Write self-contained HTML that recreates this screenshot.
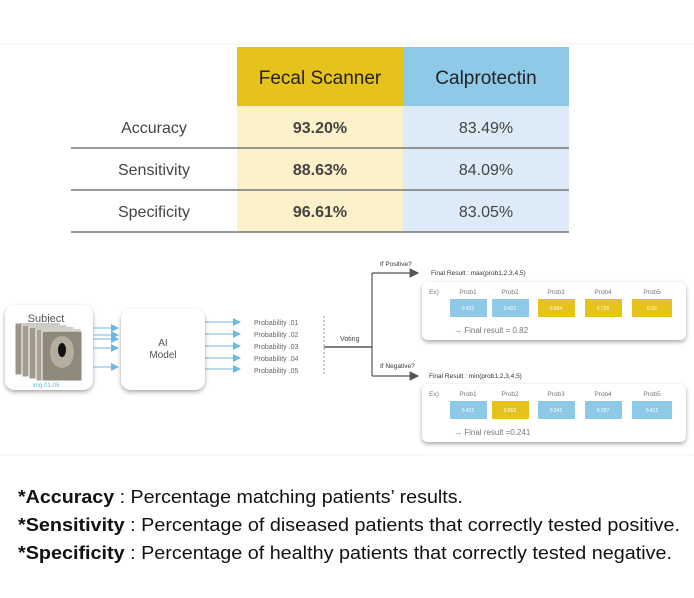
<!DOCTYPE html>
<html><head><meta charset="utf-8"><style>
html,body{margin:0;padding:0;background:#fff;}
svg{display:block;font-family:"Liberation Sans",sans-serif;}
</style></head><body>
<svg width="694" height="598" viewBox="0 0 694 598" xmlns="http://www.w3.org/2000/svg">
<defs>
<filter id="sh" x="-20%" y="-20%" width="140%" height="160%"><feDropShadow dx="0" dy="2" stdDeviation="2" flood-color="#000" flood-opacity="0.35"/></filter>
<marker id="ab" markerWidth="8" markerHeight="8" refX="7" refY="4" orient="auto"><path d="M0,0 L8,4 L0,8 z" fill="#6cb8e0"/></marker>
<marker id="ag" markerWidth="8" markerHeight="8" refX="7" refY="4" orient="auto"><path d="M0,0 L8,4 L0,8 z" fill="#555"/></marker>
</defs>
<line x1="0" y1="44" x2="694" y2="44" stroke="#f0f0f0"/>
<!-- table -->
<rect x="237" y="47" width="166" height="59" fill="#e6c21c"/>
<rect x="403" y="47" width="166" height="59" fill="#8ecae8"/>
<rect x="237" y="106" width="166" height="126" fill="#fdf1c9"/>
<rect x="403" y="106" width="166" height="126" fill="#dcebf7"/>
<g stroke="#777" stroke-width="1.5"><line x1="71" y1="148" x2="569" y2="148"/><line x1="71" y1="190" x2="569" y2="190"/><line x1="71" y1="232" x2="569" y2="232"/></g>
<g font-size="19" fill="#222" text-anchor="middle"><text x="320" y="84">Fecal Scanner</text><text x="486" y="84">Calprotectin</text></g>
<g font-size="16" fill="#444" text-anchor="middle">
<text x="154" y="133">Accuracy</text><text x="154" y="175">Sensitivity</text><text x="154" y="217">Specificity</text>
<g font-weight="bold"><text x="320" y="133">93.20%</text><text x="320" y="175">88.63%</text><text x="320" y="217">96.61%</text></g>
<text x="486" y="133">83.49%</text><text x="486" y="175">84.09%</text><text x="486" y="217">83.05%</text>
</g>
<!-- diagram -->
<rect x="5" y="305" width="88" height="85" rx="10" fill="#fff" filter="url(#sh)"/>
<text x="46" y="322" font-size="11" fill="#555" text-anchor="middle">Subject</text>
<g stroke="#fff" stroke-width="1">
<rect x="15" y="323" width="45" height="52" fill="#9a948a"/>
<rect x="22" y="325" width="45" height="52" fill="#a39d90"/>
<rect x="29" y="327" width="45" height="52" fill="#9f998c"/>
<rect x="36" y="329" width="45" height="52" fill="#a8a294"/>
<rect x="42" y="331" width="40" height="50" fill="#8f897c"/>
</g>
<ellipse cx="62" cy="352" rx="12" ry="16" fill="#b5ae9e"/>
<ellipse cx="62" cy="350" rx="4" ry="7" fill="#111"/>
<text x="46" y="387" font-size="6" fill="#6cb8e0" text-anchor="middle">img.01-05</text>
<g stroke="#6cb8e0" stroke-width="1" marker-end="url(#ab)">
<line x1="93" y1="328" x2="118" y2="328"/><line x1="93" y1="335" x2="118" y2="335"/><line x1="93" y1="339" x2="118" y2="339"/><line x1="93" y1="348" x2="118" y2="348"/><line x1="93" y1="367" x2="118" y2="367"/>
<line x1="205" y1="322" x2="240" y2="322"/><line x1="205" y1="334" x2="240" y2="334"/><line x1="205" y1="346" x2="240" y2="346"/><line x1="205" y1="358" x2="240" y2="358"/><line x1="205" y1="369" x2="240" y2="369"/>
</g>
<rect x="121" y="309" width="84" height="81" rx="10" fill="#fff" filter="url(#sh)"/>
<text x="163" y="346" font-size="10" fill="#555" text-anchor="middle">AI</text>
<text x="163" y="358" font-size="10" fill="#555" text-anchor="middle">Model</text>
<g font-size="7" fill="#666"><text x="254" y="325">Probability .01</text><text x="254" y="337">Probability .02</text><text x="254" y="349">Probability .03</text><text x="254" y="361">Probability .04</text><text x="254" y="373">Probability .05</text></g>
<line x1="324" y1="316" x2="324" y2="376" stroke="#999" stroke-dasharray="2,2"/>
<line x1="324" y1="347" x2="372" y2="347" stroke="#555" stroke-width="1.5"/>
<text x="340" y="341" font-size="7" fill="#444">Voting</text>
<line x1="372" y1="273" x2="372" y2="376" stroke="#555" stroke-width="1.2"/>
<line x1="372" y1="273" x2="418" y2="273" stroke="#555" stroke-width="1.2" marker-end="url(#ag)"/>
<line x1="372" y1="376" x2="418" y2="376" stroke="#555" stroke-width="1.2" marker-end="url(#ag)"/>
<g font-size="6.5" fill="#333"><text x="380" y="266">If Positive?</text><text x="380" y="368">If Negative?</text>
<text x="431" y="275">Final Result : max(prob1,2,3,4,5)</text><text x="429" y="378">Final Result : min(prob1,2,3,4,5)</text></g>
<g>
<rect x="422" y="282" width="264" height="58" rx="6" fill="#fff" filter="url(#sh)"/>
<rect x="422" y="384" width="264" height="58" rx="6" fill="#fff" filter="url(#sh)"/>
</g>
<g font-size="6.5" fill="#777" text-anchor="middle">
<text x="434" y="294">Ex)</text><text x="468" y="294">Prob1</text><text x="510" y="294">Prob2</text><text x="556" y="294">Prob3</text><text x="603" y="294">Prob4</text><text x="652" y="294">Prob5</text>
<text x="434" y="396">Ex)</text><text x="468" y="396">Prob1</text><text x="510" y="396">Prob2</text><text x="556" y="396">Prob3</text><text x="603" y="396">Prob4</text><text x="652" y="396">Prob5</text>
</g>
<g>
<rect x="450" y="299" width="37" height="18" fill="#8ecae8"/><rect x="492" y="299" width="37" height="18" fill="#8ecae8"/><rect x="538" y="299" width="37" height="18" fill="#e6c21c"/><rect x="585" y="299" width="37" height="18" fill="#e6c21c"/><rect x="632" y="299" width="40" height="18" fill="#e6c21c"/>
<rect x="450" y="401" width="37" height="18" fill="#8ecae8"/><rect x="492" y="401" width="37" height="18" fill="#e6c21c"/><rect x="538" y="401" width="37" height="18" fill="#8ecae8"/><rect x="585" y="401" width="37" height="18" fill="#8ecae8"/><rect x="632" y="401" width="40" height="18" fill="#8ecae8"/>
</g>
<g font-size="5" fill="#fff" text-anchor="middle">
<text x="468" y="310">0.421</text><text x="510" y="310">0.421</text><text x="556" y="310">0.664</text><text x="603" y="310">0.725</text><text x="652" y="310">0.82</text>
<text x="468" y="412">0.421</text><text x="510" y="412">0.652</text><text x="556" y="412">0.241</text><text x="603" y="412">0.337</text><text x="652" y="412">0.412</text>
</g>
<g font-size="8" fill="#777"><text x="454" y="333">→ Final result = 0.82</text><text x="454" y="435">→ Final result =0.241</text></g>
<line x1="0" y1="455" x2="694" y2="455" stroke="#f0f0f0"/>
<!-- footnotes -->
<g font-size="18" fill="#111">
<text x="18" y="503" textLength="445" lengthAdjust="spacingAndGlyphs"><tspan font-weight="bold">*Accuracy</tspan> : Percentage matching patients’ results.</text>
<text x="18" y="531" textLength="662" lengthAdjust="spacingAndGlyphs"><tspan font-weight="bold">*Sensitivity</tspan> : Percentage of diseased patients that correctly tested positive.</text>
<text x="18" y="559" textLength="654" lengthAdjust="spacingAndGlyphs"><tspan font-weight="bold">*Specificity</tspan> : Percentage of healthy patients that correctly tested negative.</text>
</g>
</svg>
</body></html>
